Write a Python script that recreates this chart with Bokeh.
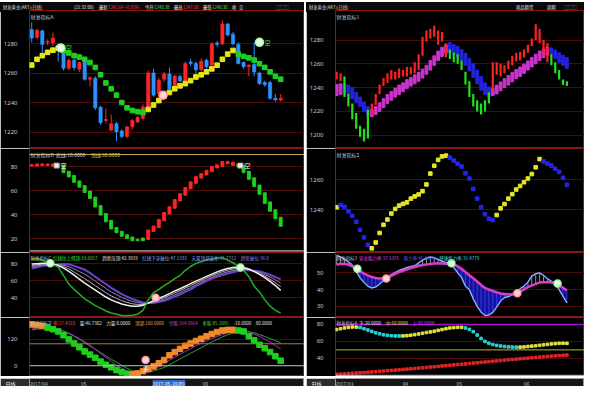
import numpy as np
from bokeh.plotting import figure
from bokeh.layouts import column, row
from bokeh.models import FixedTicker, Label, Span, Div
from bokeh.core.properties import value
from bokeh.embed import file_html
from bokeh.resources import INLINE

FONT = "Noto Sans CJK SC"

# ---------------- left panel A: candles + SAR ----------------
a_open = [1289.7,1284.5,1288.8,1281.0,1280.6,1279.0,1276.3,1263.4,1268.8,1262.8,1267.7,1256.0,1256.6,1237.0,1228.0,1221.5,
          1225.8,1220.9,1217.2,1223.7,1227.0,1229.5,1236.6,1260.2,1246.2,1256.0,1259.6,1249.5,1257.9,1254.8,1267.7,1266.7,
          1262.4,1268.8,1265.6,1280.6,1280.0,1293.5,1286.5,1279.6,1267.3,1264.5,1266.0,1260.2,1253.8,1253.8,1243.0,1241.9]
a_close = [1283.9,1289.2,1279.6,1281.7,1283.9,1276.0,1263.4,1268.8,1263.9,1267.3,1255.9,1257.0,1236.6,1226.5,1228.6,1225.8,
           1220.4,1217.2,1223.7,1228.0,1230.1,1237.2,1260.2,1245.2,1255.3,1259.6,1249.5,1258.1,1254.8,1266.7,1266.7,1262.4,
           1268.2,1264.5,1280.0,1279.6,1293.5,1286.0,1280.0,1266.7,1264.5,1265.6,1260.9,1253.1,1252.3,1243.0,1241.9,1243.0]
a_high = [1294.6,1290.3,1289.5,1283.0,1287.7,1280.0,1279.0,1270.0,1270.0,1268.0,1269.0,1258.0,1258.0,1238.0,1236.0,1232.0,
          1227.0,1222.0,1224.0,1229.0,1231.0,1239.0,1262.0,1263.0,1257.0,1261.0,1264.0,1259.0,1259.0,1268.0,1270.0,1268.0,
          1270.0,1270.0,1281.0,1282.0,1296.0,1294.0,1288.0,1281.0,1268.0,1266.0,1281.0,1261.0,1255.0,1255.0,1246.0,1246.0]
a_low = [1281.0,1283.0,1274.0,1279.0,1278.5,1268.0,1262.0,1262.0,1262.0,1261.0,1255.0,1251.0,1235.0,1225.0,1226.0,1220.5,
         1214.0,1216.0,1216.0,1222.0,1226.0,1228.0,1235.0,1244.0,1241.0,1254.0,1248.0,1248.0,1254.0,1254.0,1265.0,1259.0,
         1261.0,1263.0,1264.0,1278.0,1279.0,1285.0,1279.0,1266.0,1263.0,1258.0,1258.0,1252.0,1251.0,1242.0,1241.0,1241.0]
a_sar = [1265.6,1269.5,1272.0,1274.2,1275.7,1277.0,
         1275.5,1273.8,1272.0,1271.0,1269.5,1267.3,1264.0,1259.0,1253.5,1249.5,1245.2,1240.2,1236.6,1234.8,1234.0,1233.5,
         1235.5,1238.5,1241.5,1244.5,1247.0,1249.5,1251.5,1253.0,1255.0,1257.5,1259.0,1261.0,1263.0,1265.5,1269.5,1273.0,1275.5,
         1273.0,1271.5,1270.5,1269.0,1266.5,1264.0,1261.0,1258.0,1256.0]
trend_left = [1]*6 + [-1]*16 + [1]*17 + [-1]*9
a_sig_x = [6.5, 25.8, 44.0]
a_sig_y = [1277.2, 1245.2, 1281.0]
a_sig_kind = ["short", "long", "short"]

# ---------------- left panel B ----------------
b_val = [81.0,81.5,81.6,81.5,81.0,80.5,75.5,72.0,67.5,63.5,59.0,54.0,47.0,40.3,34.7,28.8,25.6,22.7,20.8,19.0,19.0,20.0,
         26.7,30.0,35.5,41.3,46.0,52.0,56.8,62.0,66.7,71.0,73.6,76.3,79.5,80.8,83.5,83.0,81.6,80.5,75.5,70.0,64.0,57.6,
         50.0,43.5,37.3,31.0]
b_lines = [10, 90]
b_sig_x = [5.7, 40.4]
b_sig_y = [80.8, 80.8]

# ---------------- left panel C ----------------
c_green = [85.3,86.4,84.5,81.5,79.2,76.2,66.4,56.2,49.8,44.2,38.5,34.7,30.6,27.6,24.2,21.9,20.4,18.9,18.5,19.3,
           20.4,25.0,37.4,46.1,49.8,54.4,58.1,62.7,66.4,72.5,77.0,80.8,82.6,84.9,86.0,87.2,87.5,84.5,81.5,77.0,
           72.5,64.9,53.6,46.8,37.4,29.9,25.0,21.6]
c_white = [80.0,80.4,80.8,80.8,80.0,78.1,75.1,71.3,66.8,61.9,57.4,53.2,49.1,44.9,40.8,37.4,34.8,32.5,31.0,29.9,
           29.9,31.0,33.6,36.6,39.3,41.9,44.9,48.0,50.6,53.6,56.6,59.6,62.3,65.3,67.9,70.6,72.8,74.7,75.9,76.2,
           75.9,74.0,71.0,67.6,63.8,59.3,54.4,48.7]
c_gray1 = [78.3,79.0,79.8,80.0,79.7,78.6,76.7,74.1,70.4,66.4,62.7,58.5,54.3,50.0,45.9,42.1,39.2,36.4,34.4,32.7,
           32.0,32.1,33.6,35.6,37.8,40.1,42.8,45.8,48.4,51.4,54.3,57.6,60.4,63.4,66.2,68.7,70.8,72.7,74.0,74.7,
           74.8,73.5,71.4,68.8,65.6,61.9,57.7,53.1]
c_gray2 = [76.5,77.6,78.8,79.2,79.5,79.1,78.4,76.8,74.0,71.0,67.9,64.0,59.6,55.2,51.0,46.9,43.6,40.3,37.8,35.6,
           34.2,33.3,33.6,34.6,36.3,38.2,40.6,43.5,46.1,49.2,52.0,55.6,58.5,61.5,64.4,66.8,68.8,70.7,72.1,73.2,
           73.6,73.0,71.8,70.1,67.5,64.6,61.1,57.5]
c_purple = [74.7,76.2,77.7,78.5,79.2,79.6,80.0,79.6,77.7,75.5,73.2,69.4,64.9,60.4,56.2,51.7,48.0,44.2,41.2,38.5,
            36.3,34.4,33.6,33.6,34.8,36.3,38.5,41.2,43.8,46.8,49.8,53.6,56.6,59.6,62.7,64.9,66.8,68.7,70.2,71.7,
            72.5,72.5,72.1,71.3,69.4,67.2,64.5,61.9]
c_sig_x = [4.5, 24.4, 40.4]
c_sig_y = [80.8, 40.0, 75.9]
c_sig_kind = ["short", "long", "short"]

# ---------------- left panel D ----------------
d_val = [188.0,185.1,180.7,173.5,166.3,156.2,138.8,120.0,101.2,83.9,65.1,50.6,36.2,18.8,4.3,-7.2,-20.2,-28.9,-36.2,-39.0,
         -34.7,-24.6,-14.5,-2.9,11.6,26.0,47.7,62.2,76.6,91.1,101.2,112.8,122.9,134.5,144.6,153.3,160.5,163.4,163.4,160.5,
         156.2,134.5,115.7,95.4,79.5,62.2,43.4,23.1]
d_dir = [1]*3 + [-1]*16 + [1]*20 + [-1]*9
d_purple = [170.6,172,173,173.5,172,166,158,149,137,124,110,94,75,55,38,20,3,-12,-24,-32,
            -35,-34,-29,-18,-4,12,25,39,52,65,78,91,103,114,124,133,141,149,154,158,
            158,153,144,134,121,107,92,77]
d_green = [163,167,171,173,172,166,157,146,134,120,105,90,75,60,45,30,16,2,-12,-22,
           -29,-32,-30,-24,-16,-8,5,18,31,44,57,69,82,95,108,120,131,141,148,153,
           156,155,150,142,133,124,114,105]
d_lines = [0, 100]
d_sig_x = [22.5]
d_sig_y = [26.0]

# ---------------- right panel 1 ----------------
r1_high = [1253.3,1252.0,1249.3,1234.7,1226.7,1218.7,1208.0,1205.3,1221.3,1226.7,1234.7,1242.7,1248.0,1252.0,1254.7,
           1253.3,1256.0,1254.7,1257.3,1257.3,1261.3,1268.0,1282.7,1288.0,1289.3,1292.0,1288.0,1286.7,1277.3,1272.0,
           1269.3,1268.0,1262.7,1253.3,1245.3,1234.7,1229.3,1226.7,1229.3,1236.0,1261.3,1261.3,1260.0,1258.7,1262.7,
           1266.7,1269.3,1269.9,1272.0,1276.0,1281.3,1293.3,1289.3,1280.0,1277.3,1268.0,1261.3,1254.7,1246.7,1245.3]
r1_low = [1246.7,1245.3,1232.0,1224.0,1213.3,1205.3,1198.7,1194.7,1197.3,1217.3,1225.3,1234.7,1241.3,1244.0,1246.7,
          1246.7,1248.0,1249.3,1249.3,1251.2,1252.0,1254.7,1266.7,1278.7,1281.3,1282.7,1276.0,1278.7,1265.3,1264.0,
          1261.3,1260.0,1254.7,1242.7,1232.0,1224.0,1220.0,1217.3,1220.0,1226.7,1237.3,1250.7,1249.3,1252.0,1255.5,
          1258.7,1261.9,1262.7,1265.3,1269.3,1274.7,1280.0,1277.3,1266.7,1261.3,1258.7,1252.0,1246.7,1242.1,1241.3]
r1_band_top = [1242.7,1243.2,1243.2,1242.1,1240.0,1236.0,1232.0,1228.0,1224.0,1221.3,1224.0,1227.2,1230.7,1234.1,1236.8,
               1239.5,1242.1,1244.0,1246.7,1248.5,1250.7,1252.8,1255.5,1258.7,1262.7,1266.7,1270.7,1273.9,1276.0,1277.9,
               1276.0,1274.7,1272.0,1268.8,1264.5,1260.0,1254.7,1249.3,1244.0,1240.5,1239.5,1242.1,1244.8,1247.5,1250.1,
               1252.8,1255.2,1257.3,1259.7,1262.4,1265.3,1268.0,1270.7,1272.5,1274.1,1273.3,1271.5,1269.3,1267.2,1265.3]
r1_band_bot = [1233.3,1234.1,1236.0,1234.1,1230.7,1227.2,1224.0,1220.0,1216.5,1215.5,1217.3,1220.0,1223.2,1226.7,1229.3,
               1232.0,1234.1,1236.5,1239.2,1241.3,1243.2,1245.3,1248.0,1251.2,1254.7,1258.7,1262.7,1266.1,1268.8,1269.3,
               1268.0,1266.1,1262.7,1258.7,1253.9,1248.5,1243.2,1237.9,1234.1,1232.0,1233.3,1234.7,1237.3,1240.0,1242.1,
               1244.8,1247.5,1249.3,1252.0,1254.7,1257.3,1260.0,1262.7,1265.3,1267.2,1268.0,1264.5,1261.3,1258.7,1256.0]
r1_trend = [1]*2 + [-1]*7 + [1]*20 + [-1]*11 + [1]*15 + [-1]*5

# ---------------- right panel 2 ----------------
r2_val = [1241.7,1243.2,1242.0,1239.0,1236.0,1232.0,1226.5,1221.5,1216.5,1214.2,1218.1,1224.5,1230.0,1233.5,1237.5,
          1240.6,1242.8,1244.0,1245.0,1247.5,1249.0,1250.3,1252.5,1257.0,1264.3,1269.5,1273.5,1275.8,1276.3,1275.0,
          1273.0,1270.8,1269.0,1264.5,1261.0,1254.0,1247.5,1241.7,1237.0,1234.0,1233.1,1236.5,1241.0,1243.9,1247.5,
          1250.5,1253.6,1256.0,1258.5,1261.0,1264.0,1268.5,1274.0,1272.5,1271.0,1269.7,1267.5,1265.4,1261.5,1256.8]
r2_trend = [1] + [-1]*8 + [1]*20 + [-1]*12 + [1]*12 + [-1]*7

# ---------------- right panel 3 ----------------
r3_main = [60.5,59.5,58.3,56.5,54.8,51.0,47.0,44.3,42.0,41.0,41.5,43.3,45.5,47.6,49.0,50.3,51.5,52.3,53.2,53.8,
           54.3,56.0,57.6,58.8,59.5,59.0,58.0,56.9,56.2,55.7,53.2,50.0,47.3,42.0,40.0,34.5,30.0,26.5,24.5,24.8,
           26.3,29.5,33.2,35.2,35.8,36.8,38.0,40.6,42.0,44.5,48.1,49.5,50.0,48.5,46.5,45.0,43.5,40.0,36.0,32.0]
r3_sig = [54.8,55.4,55.5,54.8,54.0,52.3,51.0,49.6,48.5,47.5,46.9,46.6,46.8,47.2,48.3,49.5,50.5,51.3,52.2,52.9,
          53.5,54.1,54.7,55.0,55.3,55.6,55.7,55.6,55.5,55.3,55.0,54.0,52.4,50.5,48.6,46.8,44.8,42.8,41.0,40.0,
          39.2,38.4,37.7,37.3,37.2,37.3,37.6,38.8,40.2,41.5,42.4,43.4,44.3,44.4,44.4,44.3,43.8,42.5,41.0,39.5]
r3_sig_x = [5.3, 12.7, 29.4, 46.3, 56.6]
r3_sig_y = [52.5, 46.6, 55.7, 37.8, 43.7]
r3_sig_kind = ["short", "long", "short", "long", "short"]

# ---------------- right panel 4 ----------------
r4_val = [74.0,75.0,75.9,76.5,77.0,76.9,76.4,75.0,73.5,71.8,70.2,69.0,67.8,67.2,66.7,66.5,66.4,66.5,66.8,67.3,
          68.0,68.8,69.6,70.5,71.2,72.0,73.0,74.0,75.0,75.8,76.3,76.6,76.6,75.8,74.2,71.5,67.5,63.5,60.0,57.8,
          56.3,55.3,54.6,54.0,53.6,53.3,53.2,53.2,53.5,54.0,54.4,54.9,55.4,56.0,56.5,57.0,57.4,57.7,57.8,57.7]
r4_dir = [1]*6 + [-1]*11 + [1]*16 + [-1]*14 + [1]*13
r4_red = [21.2,21.5,21.8,22.1,22.4,22.7,23.0,23.3,23.6,24.0,24.3,24.7,25.0,25.4,25.8,26.1,26.5,26.9,27.3,27.7,
          28.1,28.5,28.9,29.3,29.7,30.1,30.5,31.0,31.4,31.8,32.3,32.7,33.1,33.5,34.0,34.4,34.8,35.3,35.7,36.1,
          36.6,37.0,37.4,37.8,38.3,38.7,39.1,39.5,39.9,40.3,40.7,41.1,41.5,41.9,42.3,42.6,43.0,43.3,43.6,43.9]
r4_lines = [20, 50, 80]

# ---------------- axis ticks / labels ----------------
left_date_ticks = [2.3, 10.8, 33.8]
left_date_labels = ["2017/04", "05", "06"]
left_cursor_x = 26.9
left_cursor_label = "2017-05-18(四)"
right_date_ticks = [2.0, 17.6, 31.4, 48.7]
right_date_labels = ["2017/03", "04", "05", "06"]

for arr in [a_open, a_close, a_high, a_low, a_sar, trend_left, b_val, c_green, c_white, c_gray1, c_gray2,
            c_purple, d_val, d_dir, d_purple, d_green]:
    assert len(arr) == 48, len(arr)
for arr in [r1_high, r1_low, r1_band_top, r1_band_bot, r1_trend, r2_val, r2_trend, r3_main, r3_sig,
            r4_val, r4_dir, r4_red]:
    assert len(arr) == 60, len(arr)

# ---------------- helpers ----------------
LW, RW = 304, 278
BORDER = 26
H1, H2, H3, H4 = 138, 104, 65, 59
STRIP = 10


def tw(s, size):
    return sum(size if ord(ch) > 0x2E80 else size * 0.56 for ch in s)


def texts(p, x, y, parts, size=5.0, gap=2.5):
    for txt, col in parts:
        p.add_layout(Label(x=x, y=y, x_units="screen", y_units="screen", text=txt,
                           text_color=col, text_font_size=f"{size}px", text_font=FONT,
                           text_baseline="middle", text_align="left"))
        x += tw(txt, size) + gap


def panel(width, height, xr, yr, yticks):
    p = figure(width=width, height=height, x_range=xr, y_range=yr,
               output_backend="svg", toolbar_location=None,
               min_border_left=BORDER, min_border_right=0, min_border_top=0, min_border_bottom=0,
               background_fill_color="black", border_fill_color="black",
               outline_line_color="#8a1717", outline_line_width=1)
    p.title.visible = False
    p.xaxis.visible = False
    p.xgrid.visible = False
    p.ygrid.ticker = FixedTicker(ticks=yticks)
    p.ygrid.grid_line_color = "#4a0b0b"
    p.yaxis.ticker = FixedTicker(ticks=yticks)
    p.yaxis.major_label_text_font_size = "6px"
    p.yaxis.major_label_text_font = "Noto Sans"
    p.yaxis.major_label_text_color = "#c8c8c8"
    p.yaxis.axis_line_color = None
    p.yaxis.major_tick_line_color = None
    p.yaxis.minor_tick_line_color = None
    p.yaxis.major_label_standoff = 6
    return p


def top_bar(width, items):
    spans = "".join(
        f'<span style="position:absolute;left:{x}px;top:0;height:{STRIP}px;line-height:{STRIP}px;'
        f'color:{c};font-size:4.3px;font-family:\'{FONT}\';white-space:nowrap">{t}</span>'
        for x, t, c in items)
    html = (f'<div style="position:relative;width:{width}px;height:{STRIP}px;background:#0a0a0a;'
            f'overflow:hidden;margin:0;padding:0">{spans}</div>')
    return Div(text=html, width=width, height=STRIP, margin=0)


def date_strip(width, xr, ticks, labels):
    p = figure(width=width, height=STRIP, x_range=xr, y_range=(0, 1), x_axis_type=None,
               output_backend="svg", toolbar_location=None,
               min_border_left=BORDER, min_border_right=0, min_border_top=0, min_border_bottom=0,
               background_fill_color="#161616", border_fill_color="#2c2c2c", outline_line_color="#9a9a9a",
               outline_line_width=1)
    p.title.visible = False
    p.grid.visible = False
    p.yaxis.ticker = FixedTicker(ticks=[0.5])
    p.yaxis.major_label_overrides = {0.5: "日线"}
    p.yaxis.major_label_text_font = FONT
    p.yaxis.major_label_text_font_size = "5px"
    p.yaxis.major_label_text_color = "#f0f0f0"
    p.yaxis.axis_line_color = None
    p.yaxis.major_tick_line_color = None
    p.yaxis.minor_tick_line_color = None
    p.yaxis.major_label_standoff = 8
    for t, lab in zip(ticks, labels):
        p.add_layout(Label(x=t, y=0.5, x_units="data", y_units="data", text=lab, text_color="#c8c8c8",
                           text_font=FONT, text_font_size="4.8px", text_baseline="middle", text_align="center"))
    return p


def sig_markers(p, xs, ys, kinds, size=8):
    fills = ["#f2f2f2" if k == "short" else "#ffd6d6" for k in kinds]
    lines = ["#9cff9c" if k == "short" else "#ff9a9a" for k in kinds]
    p.scatter(x=xs, y=ys, size=size, fill_color=fills, line_color=lines, line_width=1.5)


RED, BLUE, GREEN, YELLOW = "#ff2424", "#2c92ff", "#1fd01f", "#e6e61a"
GREY = "#c0c0c0"

# ================= LEFT COLUMN =================
idx_l = np.arange(1, 49)
lx = (0.58, 52.5)

tl = top_bar(LW, [(3, "财发黄金(AKT)(日线)", "#d8d8d8"), (74, "[21:32:00]", "#e8e8e8"),
                  (99, "最新", "#e8e8e8"), (108, "1242.64 +0.03%", "#ff3a3a"),
                  (145, "今开", "#e8e8e8"), (154, "1240.38", "#3ae03a"),
                  (174, "最高", "#e8e8e8"), (183, "1247.60", "#ff3a3a"),
                  (203, "最低", "#e8e8e8"), (212, "1240.30", "#3ae03a"),
                  (232, "收", "#e8e8e8"), (239, "量", "#8fb0ff"), (276, "□□□", "#9a9a9a")])

# --- A
pA = panel(LW, H1, lx, (1209, 1302.6), [1220, 1240, 1260, 1280])
cc = [RED if c >= o else BLUE for o, c in zip(a_open, a_close)]
pA.segment(x0=idx_l, y0=a_low, x1=idx_l, y1=a_high, color=cc, line_width=1)
pA.vbar(x=idx_l, top=np.maximum(a_open, a_close), bottom=np.minimum(a_open, a_close), width=0.62,
        fill_color=cc, line_color=cc, line_width=0.6)
sar_c = [YELLOW if t > 0 else GREEN for t in trend_left]
pA.scatter(x=idx_l, y=a_sar, marker="square", size=4.6, color=sar_c)
sig_markers(pA, a_sig_x, a_sig_y, a_sig_kind)
sx = [x for x, k in zip(a_sig_x, a_sig_kind) if k == "short"]
sy = [y for y, k in zip(a_sig_y, a_sig_kind) if k == "short"]
pA.text(x=sx, y=sy, text=["空"] * len(sx), x_offset=5, text_baseline="middle", text_color="#3fe03f",
        text_font=value(FONT), text_font_size="6px")
texts(pA, 1, H1 - 6, [("财发指标A", GREY)])

# --- B
pB = panel(LW, H2, lx, (8.6, 95), [20, 40, 60, 80])
pB.add_layout(Span(location=b_lines[1], dimension="width", line_color="#b8b060", line_width=1))
pB.add_layout(Span(location=b_lines[0], dimension="width", line_color="#bdbdbd", line_width=1))
prev = [b_val[0]] + b_val[:-1]
b_top = [max(a, b) + 0.6 for a, b in zip(prev, b_val)]
b_bot = [min(a, b) - 0.6 for a, b in zip(prev, b_val)]
b_col = [RED if t > 0 else GREEN for t in trend_left]
pB.vbar(x=idx_l, top=b_top, bottom=b_bot, width=0.55, color=b_col)
pB.scatter(x=b_sig_x, y=b_sig_y, marker="square", size=5, fill_color="#f0f0f0", line_color="#a0a0a0")
pB.text(x=b_sig_x, y=b_sig_y, text=["空"] * len(b_sig_x), x_offset=4, text_baseline="middle",
        text_color="#f0f0f0", text_font=value(FONT), text_font_size="6px")
texts(pB, 1, H2 - 6, [("财发指标B", GREY), ("底线:10.0000", "#d0d0d0"), ("顶线:90.0000", "#d8c850")])

# --- C
pC = panel(LW, H3, lx, (16.5, 93.6), [40, 60, 80])
pC.line(idx_l, c_purple, line_color="#6b3fd0", line_width=2)
pC.line(idx_l, c_gray2, line_color="#8a8aa8", line_width=1)
pC.line(idx_l, c_gray1, line_color="#b4b4c6", line_width=1)
pC.line(idx_l, c_white, line_color="#f0f0f0", line_width=1.5)
pC.line(idx_l, c_green, line_color="#1fb01f", line_width=1.5)
sig_markers(pC, c_sig_x, c_sig_y, c_sig_kind, size=7)
texts(pC, 1, H3 - 5, [("财发指标C", GREY), ("红线往上揭顶:19.6917", "#3ee03e"), ("趋势压顶:42.3919", "#e8e8e8"),
                      ("红线下穿破位:47.1333", "#8ab0ff"), ("天量顶部变化:31.7712", "#8a9cff"),
                      ("趋势破位:36.0", "#9a7cff")], size=4.5, gap=2)

# --- D
pD = panel(LW, H4, lx, (-49, 219.6), [0, 120])
pD.add_layout(Span(location=d_lines[1], dimension="width", line_color="#a87a4a", line_width=1))
pD.add_layout(Span(location=d_lines[0], dimension="width", line_color="#bdbdbd", line_width=1))
pD.line(idx_l, d_green, line_color="#2aa02a", line_width=1)
pD.line(idx_l, d_purple, line_color="#a02ac8", line_width=1)
d_col = ["#f08a2a" if d > 0 else GREEN for d in d_dir]
pD.scatter(x=idx_l, y=d_val, marker="square", size=5.5, color=d_col)
sig_markers(pD, d_sig_x, d_sig_y, ["long"], size=7)
pD.text(x=d_sig_x, y=d_sig_y, text=["多"], y_offset=8, text_align="center", text_baseline="middle",
        text_color="#f0f0f0", text_font=value(FONT), text_font_size="6px")
texts(pD, 1, H4 - 5, [("财发指标D", GREY), ("率:17.4318", "#ff4040"), ("量:46.7382", "#e8e8e8"),
                      ("力量:8.0000", "#e8e8e8"), ("顶部:100.0000", "#f0a040"),
                      ("空能:164.0664", "#d040d0"), ("多能:85.1095", "#40d040"),
                      ("-10.0000", "#e8e8e8"), ("80.0000", "#e8e8e8")], size=4.5, gap=2)

bl = date_strip(LW, lx, left_date_ticks, left_date_labels)
bl.add_layout(Label(x=left_cursor_x, y=0.5, x_units="data", y_units="data", text=left_cursor_label,
                    text_color="#ffffff", text_font=FONT, text_font_size="4.8px", text_baseline="middle",
                    text_align="center", background_fill_color="#2a66c8"))

# ================= RIGHT COLUMN =================
idx_r = np.arange(60)
rx = (-0.3, 63.5)

tr = top_bar(RW, [(3, "财发黄金(AKT)(日线)", "#d8d8d8"), (210, "商品期货", "#e8e8e8"),
                  (241, "周期", "#e8e8e8"), (258, "□□□", "#9a9a9a")])

# --- 1
p1 = panel(RW, H1, rx, (1188.8, 1304.8), [1200, 1220, 1240, 1260, 1280])
band_c = ["#cc33cc" if t > 0 else "#2323dd" for t in r1_trend]
p1.vbar(x=idx_r, top=r1_band_top, bottom=r1_band_bot, width=0.7, color=band_c)
bar_c = ["#ff2020" if t > 0 else "#22e022" for t in r1_trend]
p1.segment(x0=idx_r, y0=r1_low, x1=idx_r, y1=r1_high, color=bar_c, line_width=2.2)
texts(p1, 1, H1 - 6, [("财发指标1", GREY)])

# --- 2
p2 = panel(RW, H2, rx, (1211.4, 1281.1), [1240, 1260])
r2_c = ["#e6e62a" if t > 0 else "#2424e8" for t in r2_trend]
p2.scatter(x=idx_r, y=r2_val, marker="square", size=3.6, color=r2_c)
texts(p2, 1, H2 - 6, [("财发指标2", GREY)])

# --- 3
p3 = panel(RW, H3, rx, (23.3, 62.2), [30, 40, 50])
main = np.array(r3_main)
sig = np.array(r3_sig)
p3.varea(x=idx_r, y1=main, y2=np.maximum(main, sig), fill_color="#12129a")
up = main > sig
p3.segment(x0=idx_r[up], y0=sig[up], x1=idx_r[up], y1=main[up], line_color="#cfcfcf", line_width=0.7)
dn = ~up
p3.segment(x0=idx_r[dn], y0=main[dn], x1=idx_r[dn], y1=sig[dn], line_color="#4a4aff", line_width=0.7)
p3.line(idx_r, main, line_color="#3a5cff", line_width=1.6)
p3.line(idx_r, main, line_color="#bfeec8", line_width=0.8)
p3.line(idx_r, sig, line_color="#d83cc8", line_width=2.6)
sig_markers(p3, r3_sig_x, r3_sig_y, r3_sig_kind, size=7)
texts(p3, 1, H3 - 5, [("财发指标3", GREY), ("营业能力率:37.5375", "#e040e0"), ("能力率:46.1679", "#4a5cff"),
                      ("健康能力率:31.4779", "#40d8d8")], size=4.5, gap=2)

# --- 4
p4 = panel(RW, H4, rx, (18.6, 88.2), [40, 60, 80])
p4.add_layout(Span(location=r4_lines[2], dimension="width", line_color="#a010c8", line_width=1.5))
p4.add_layout(Span(location=r4_lines[1], dimension="width", line_color="#b8b830", line_width=1))
p4.add_layout(Span(location=r4_lines[0], dimension="width", line_color="#c8c8c8", line_width=1))
r4_c = ["#e0e040" if d > 0 else "#2ad0d0" for d in r4_dir]
p4.scatter(x=idx_r, y=r4_val, marker="square", size=2.6, color=r4_c)
p4.scatter(x=idx_r, y=r4_red, marker="square", size=2.6, color="#e02424")
texts(p4, 1, H4 - 5, [("财发指标4", GREY), ("下:20.0000", "#e8e8e8"), ("中:50.0000", "#e0e040"),
                      ("上:80.0000", "#d040f0")], size=4.5, gap=2)

br = date_strip(RW, rx, right_date_ticks, right_date_labels)

left = column(tl, pA, pB, pC, pD, bl, spacing=0)
right = column(tr, p1, p2, p3, p4, br, spacing=0)
layout = row(left, right, spacing=2)

open("out.html", "w").write(file_html(layout, INLINE))
